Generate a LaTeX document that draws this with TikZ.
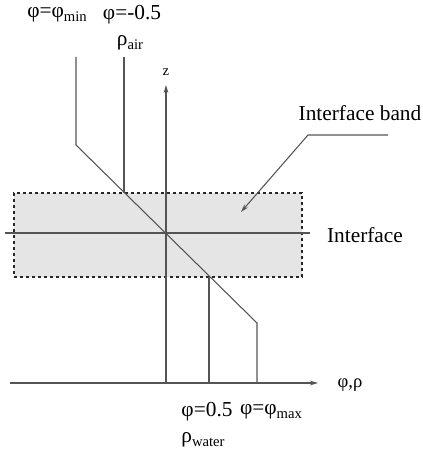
\documentclass[tikz,border=0pt]{standalone}
\usepackage{fontspec}
\setmainfont{Liberation Serif}
\usetikzlibrary{arrows.meta,positioning}
\definecolor{linegrey}{rgb}{0.33,0.33,0.33}
\definecolor{bandgrey}{rgb}{0.90,0.90,0.90}
\newcommand{\lowtxt}[1]{\raisebox{-0.35ex}{\fontsize{11}{11}\selectfont #1}}

\begin{document}
\begin{tikzpicture}[
  x=0.75pt, y=-0.75pt,
  >={Stealth[length=6pt,width=3.5pt]},
  every node/.style={font=\fontsize{16}{18}\selectfont, inner sep=0pt},
  smalllabel/.style={font=\fontsize{11}{12}\selectfont},
  bandbox/.style={
    rectangle, draw=black!85, fill=bandgrey,
    dash pattern=on 2.5pt off 2pt, line width=0.8pt,
    minimum width=216pt, minimum height=63pt
  },
  plainline/.style={draw=linegrey, line width=0.8pt},
  axisarrow/.style={->, draw=linegrey, line width=0.8pt}
]
\useasboundingbox (0,0) rectangle (422,452);

% Interface band (behind everything)
\node[bandbox] (band) at (158,235) {};

% Axes
\coordinate (zbot) at (166,383);
\coordinate (ztop) at (166,85);
\coordinate (xleft) at (10,383);
\coordinate (xright) at (318,383);
\draw[axisarrow] (zbot) -- (ztop);
\draw[axisarrow] (xleft) -- (xright);
\node[smalllabel] (zlab) at (166,72) {z};
\node[smalllabel, font=\fontsize{14}{15}\selectfont] (philab) at (350,385) {φ,ρ};

% Interface line
\coordinate (ifleft) at (5,233);
\coordinate (ifright) at (310,233);
\draw[plainline] (ifleft) -- (ifright);
\node (iflab) at (365,235) {Interface};

% phi profile
\coordinate (mintop) at (76,57);
\coordinate (minbend) at (76,145);
\coordinate (maxbend) at (257,323);
\coordinate (maxbot) at (257,383);
\draw[plainline] (mintop) -- (minbend) -- (maxbend) -- (maxbot);

% phi = -0.5 and phi = 0.5 levels
\coordinate (airtop) at (124,57);
\coordinate (airbot) at (124,193);
\coordinate (watertop) at (209,277);
\coordinate (waterbot) at (209,383);
\draw[plainline] (airtop) -- (airbot);
\draw[plainline] (watertop) -- (waterbot);

% Top labels
\node (phimin) at (57,15) {φ=φ\lowtxt{min}};
\node (phiair) at (132,15) {φ=-0.5};
\node (rhoair) at (130,43) {ρ\lowtxt{air}};

% Bottom labels
\node (phiwater) at (207,412) {φ=0.5};
\node (phimax) at (271,412) {φ=φ\lowtxt{max}};
\node (rhowater) at (203,440) {ρ\lowtxt{water}};

% Interface band label with leader
\node (bandlab) at (360,113) {Interface band};
\coordinate (leadend) at (388,135);
\coordinate (leadknee) at (308,135);
\coordinate (leadtip) at (241,212);
\draw[axisarrow] (leadend) -- (leadknee) -- (leadtip);

\end{tikzpicture}
\end{document}
